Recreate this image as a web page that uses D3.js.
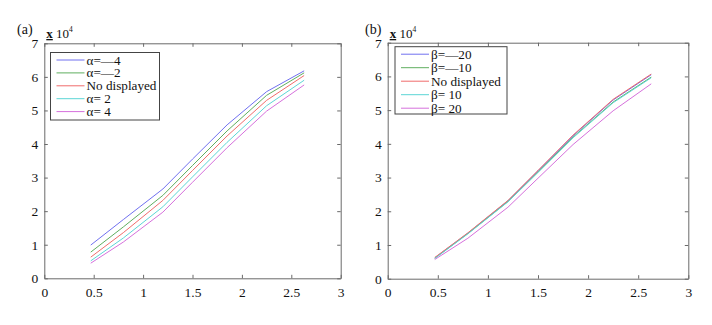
<!DOCTYPE html>
<html>
<head>
<meta charset="utf-8">
<script src="https://cdn.jsdelivr.net/npm/d3@7"></script>
<style>
  body { margin: 0; background: #fff; }
  svg text { font-family: "Liberation Serif", "DejaVu Serif", serif; fill: #111; }
</style>
</head>
<body>
<svg id="chart" width="712" height="325"></svg>
<script>
// x samples shared by every curve
let xs = [0.47, 0.8, 1.2, 1.5, 1.85, 2.25, 2.63];

// panel (a)
let alphaNames = ['α=—4', 'α=—2', 'No displayed', 'α= 2', 'α= 4'];
let aM4 = [0.99, 1.75, 2.66, 3.55, 4.57, 5.56, 6.18];
let aM2 = [0.78, 1.53, 2.47, 3.36, 4.39, 5.45, 6.12];
let aNone = [0.63, 1.36, 2.32, 3.21, 4.24, 5.30, 6.04];
let aP2 = [0.52, 1.20, 2.13, 3.02, 4.05, 5.14, 5.90];
let aP4 = [0.45, 1.08, 1.97, 2.86, 3.89, 4.98, 5.76];

// panel (b)
let betaNames = ['β=—20', 'β=—10', 'No displayed', 'β= 10', 'β= 20'];
let bM20 = [0.62, 1.35, 2.31, 3.20, 4.24, 5.30, 6.05];
let bM10 = [0.61, 1.34, 2.29, 3.17, 4.20, 5.24, 5.98];
let bNone = [0.63, 1.36, 2.32, 3.21, 4.26, 5.32, 6.07];
let bP10 = [0.60, 1.33, 2.28, 3.15, 4.18, 5.22, 5.96];
let bP20 = [0.57, 1.20, 2.12, 2.98, 3.98, 4.98, 5.78];

let xTicks = [0, 0.5, 1, 1.5, 2, 2.5, 3];
let yTicks = [0, 1, 2, 3, 4, 5, 6, 7];
let colors = ['#7070f0', '#5fae5f', '#f06c6c', '#5cd6d6', '#d670dc'];

let svg = d3.select('#chart');

function drawPanel(opt) {
  let x = d3.scaleLinear().domain([0, 3]).range([opt.left, opt.right]);
  let y = d3.scaleLinear().domain([0, 7]).range([opt.bottom, opt.top]);
  let g = svg.append('g');

  let axisColor = '#6a6a6a';
  let fmt = d3.format('');

  // bottom & left with labels, ticks pointing inward
  let bx = g.append('g').attr('transform', `translate(0,${opt.bottom})`)
    .call(d3.axisBottom(x).tickValues(xTicks).tickSizeInner(-3.5).tickSizeOuter(0).tickPadding(9).tickFormat(fmt));
  let ly = g.append('g').attr('transform', `translate(${opt.left},0)`)
    .call(d3.axisLeft(y).tickValues(yTicks).tickSizeInner(-3.5).tickSizeOuter(0).tickPadding(6).tickFormat(fmt));
  // top & right, ticks only
  let tx = g.append('g').attr('transform', `translate(0,${opt.top})`)
    .call(d3.axisTop(x).tickValues(xTicks).tickSizeInner(-3.5).tickSizeOuter(0).tickFormat(''));
  let ry = g.append('g').attr('transform', `translate(${opt.right},0)`)
    .call(d3.axisRight(y).tickValues(yTicks).tickSizeInner(-3.5).tickSizeOuter(0).tickFormat(''));

  [bx, ly, tx, ry].forEach(a => {
    a.selectAll('path, line').attr('stroke', axisColor);
    a.selectAll('text').style('font-size', '13.5px').attr('fill', '#111')
      .style('font-family', '"Liberation Serif", serif');
  });

  let line = d3.line().x((d, i) => x(xs[i])).y(d => y(d));
  g.selectAll('path.curve')
    .data(opt.series)
    .enter()
    .append('path')
    .attr('class', 'curve')
    .attr('d', d => line(d))
    .attr('fill', 'none')
    .attr('stroke', (d, i) => colors[i])
    .attr('stroke-width', 1);

  // panel tag and exponent
  g.append('text').attr('x', opt.tagX).attr('y', 34).style('font-size', '14px').text(opt.tag);
  let ex = g.append('text').attr('x', opt.left + 2).attr('y', 38).style('font-size', '13px');
  ex.append('tspan').text('x').style('font-weight', 'bold').style('text-decoration', 'underline');
  ex.append('tspan').text(' 10');
  ex.append('tspan').text('4').attr('dy', -6).style('font-size', '7.5px');

  // legend
  let lg = g.append('g');
  lg.append('rect')
    .attr('x', opt.legX).attr('y', opt.legY)
    .attr('width', opt.legW).attr('height', opt.legH)
    .attr('fill', '#fff').attr('stroke', '#444').attr('stroke-width', 1);
  opt.names.forEach((name, i) => {
    let ry0 = opt.legY + opt.rowY0 + i * opt.rowStep;
    lg.append('line')
      .attr('x1', opt.legX + 6).attr('x2', opt.legX + 34)
      .attr('y1', ry0).attr('y2', ry0)
      .attr('stroke', colors[i]).attr('stroke-width', 1);
    lg.append('text')
      .attr('x', opt.legX + 36).attr('y', ry0 + 4.5)
      .style('font-size', '13.2px')
      .text(name);
  });
}

drawPanel({
  left: 44.3, right: 340.7, top: 43.3, bottom: 278.3,
  series: [aM4, aM2, aNone, aP2, aP4], names: alphaNames,
  tag: '(a)', tagX: 17,
  legX: 50.5, legY: 52.5, legW: 109, legH: 67.5, rowY0: 7.5, rowStep: 12.9
});

drawPanel({
  left: 387.7, right: 688.3, top: 42.7, bottom: 278.7,
  series: [bM20, bM10, bNone, bP10, bP20], names: betaNames,
  tag: '(b)', tagX: 365,
  legX: 395, legY: 46.7, legW: 112, legH: 67.3, rowY0: 7.5, rowStep: 13.5
});
</script>
</body>
</html>
